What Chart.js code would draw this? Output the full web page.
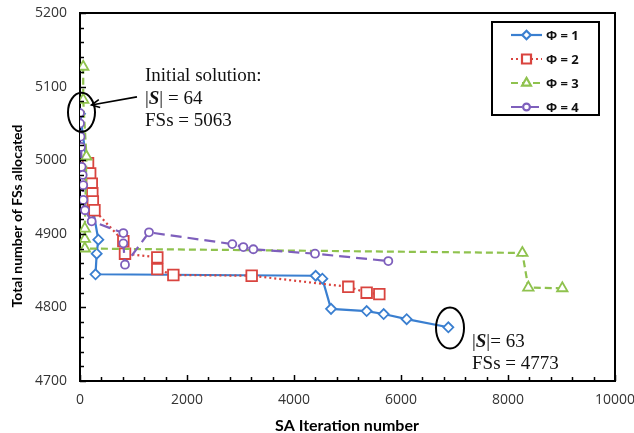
<!DOCTYPE html>
<html><head><meta charset="utf-8">
<script src="https://cdn.jsdelivr.net/npm/chart.js@4/dist/chart.umd.min.js"></script>
<style>html,body{margin:0;padding:0;background:#fff;}</style>
</head><body>
<canvas id="c" width="634" height="433"></canvas>
<script>
const seriesNames = ['Φ = 1', 'Φ = 2', 'Φ = 3', 'Φ = 4'];

const phi1X = [0, 250, 343, 312, 290, 4405, 4530, 4692, 5358, 5676, 6106, 6885];
const phi1Y = [5063, 4930, 4892, 4873, 4845, 4843, 4839, 4798, 4795, 4791, 4784, 4773];

const phi2X = [150, 190, 220, 230, 240, 270, 810, 841, 1445, 1445, 1745, 3209, 5015, 5358, 5595];
const phi2Y = [4996, 4982, 4968, 4955, 4944, 4932, 4890, 4873, 4868, 4852, 4844, 4843, 4828, 4820, 4818];

const phi3X = [60, 60, 120, 90, 90, 90, 8268, 8380, 9015];
const phi3Y = [5127, 5082, 5005, 4907, 4893, 4880, 4874, 4827, 4826];

const phi4X = [0, 0, 10, 20, 30, 50, 60, 62, 93, 218, 810, 810, 841, 1290, 2847, 3053, 3240, 4393, 5763];
const phi4Y = [5064, 5050, 5032, 5018, 4991, 4980, 4966, 4946, 4932, 4917, 4901, 4887, 4858, 4902, 4886, 4882, 4879, 4873, 4863];

const xTicks = [0, 2000, 4000, 6000, 8000, 10000];
const yTicks = [4700, 4800, 4900, 5000, 5100, 5200];
const xAxisTitle = 'SA Iteration number';
const yAxisTitle = 'Total number of FSs allocated';

const initialNote = { x: 28, y: 5065, arrowFrom: [1065, 5086], arrowTo: [215, 5075], lines: ['Initial solution:', '|S| = 64', 'FSs = 5063'] };
const finalNote = { x: 6916, y: 4772, lines: ['|S|= 63', 'FSs = 4773'] };

const colors = ['#3a7fd0', '#d9443f', '#8fc24e', '#7e5fbc'];
const styles = [
  { pointStyle: 'rectRot', r: 5, dash: [] },
  { pointStyle: 'rect', r: 7.5, dash: [2, 3] },
  { pointStyle: 'triangle', r: 6, dash: [7, 4] },
  { pointStyle: 'circle', r: 4, dash: [11, 6] }
];

const xs = [phi1X, phi2X, phi3X, phi4X];
const ys = [phi1Y, phi2Y, phi3Y, phi4Y];

const datasets = seriesNames.map((name, i) => ({
  label: name,
  order: 3 - i,
  data: xs[i].map((x, j) => ({ x: x, y: ys[i][j] })),
  borderColor: colors[i],
  backgroundColor: '#ffffff',
  pointBackgroundColor: '#ffffff',
  pointBorderColor: colors[i],
  pointStyle: styles[i].pointStyle,
  pointRadius: styles[i].r,
  pointBorderWidth: 1.8,
  borderWidth: 2.2,
  borderDash: styles[i].dash,
  tension: 0,
  fill: false
}));

function line(ctx, x1, y1, x2, y2) { ctx.beginPath(); ctx.moveTo(x1, y1); ctx.lineTo(x2, y2); ctx.stroke(); }

function drawS(ctx, pre, post, x, y) {
  const reg = '19px "Liberation Serif"';
  const bi = 'bold italic 19px "Liberation Serif"';
  ctx.font = reg; ctx.fillText(pre, x, y); x += ctx.measureText(pre).width;
  ctx.font = bi; ctx.fillText('S', x, y); x += ctx.measureText('S').width;
  ctx.font = reg; ctx.fillText(post, x, y);
}

const decor = {
  id: 'decor',
  beforeDraw(chart) {
    const ctx = chart.ctx;
    ctx.save(); ctx.fillStyle = '#ffffff'; ctx.fillRect(0, 0, chart.width, chart.height); ctx.restore();
  },
  afterDraw(chart) {
    const { ctx, chartArea: a, scales: { x, y } } = chart;
    ctx.save();
    ctx.strokeStyle = '#000'; ctx.lineWidth = 2;
    ctx.beginPath(); ctx.moveTo(a.left, a.top); ctx.lineTo(a.right, a.top); ctx.lineTo(a.right, a.bottom); ctx.stroke();
    ctx.lineWidth = 1.5;
    for (let v = yTicks[0]; v <= yTicks[yTicks.length - 1]; v += 20) {
      const py = Math.round(y.getPixelForValue(v)) + 0.5;
      line(ctx, a.left, py, a.left + (v % 100 === 0 ? 6 : 4), py);
    }
    for (let v = xTicks[0]; v <= xTicks[xTicks.length - 1]; v += 400) {
      const px = Math.round(x.getPixelForValue(v)) + 0.5;
      line(ctx, px, a.bottom, px, a.bottom - (v % 2000 === 0 ? 6 : 4));
    }
    // axis titles
    ctx.fillStyle = '#000';
    ctx.font = 'bold 14px Lato';
    ctx.textAlign = 'center'; ctx.textBaseline = 'middle';
    ctx.save(); ctx.translate(17, 216); ctx.rotate(-Math.PI / 2); ctx.fillText(yAxisTitle, 0, 0); ctx.restore();
    ctx.font = 'bold 16px Lato';
    ctx.textBaseline = 'alphabetic';
    ctx.fillText(xAxisTitle, 347, 431);

    // legend
    ctx.textBaseline = 'middle';
    ctx.lineWidth = 2; ctx.strokeStyle = '#000';
    ctx.strokeRect(492, 22, 107, 93);
    seriesNames.forEach((name, i) => {
      const ry = 35 + i * 24;
      ctx.strokeStyle = colors[i]; ctx.lineWidth = 2.2; ctx.setLineDash(styles[i].dash);
      line(ctx, 511, ry, 542, ry);
      ctx.setLineDash([]);
      ctx.fillStyle = '#fff'; ctx.strokeStyle = colors[i];
      Chart.helpers.drawPoint(ctx, { pointStyle: styles[i].pointStyle, radius: styles[i].r * 0.85, rotation: 0, borderWidth: 1.6 }, 526.5, ry);
      ctx.fillStyle = '#111'; ctx.font = 'bold 13px "Open Sans"'; ctx.textAlign = 'left';
      ctx.fillText(name, 546, ry + 1);
    });
    ctx.restore();
  },
  afterDatasetsDraw(chart) {
    const { ctx, scales: { x, y } } = chart;
    ctx.save();
    ctx.strokeStyle = '#000'; ctx.lineWidth = 2;
    ctx.beginPath(); ctx.ellipse(x.getPixelForValue(initialNote.x), y.getPixelForValue(initialNote.y), 13.5, 19.5, 0, 0, Math.PI * 2); ctx.stroke();
    ctx.beginPath(); ctx.ellipse(x.getPixelForValue(finalNote.x), y.getPixelForValue(finalNote.y), 14, 20.5, 0, 0, Math.PI * 2); ctx.stroke();
    const ax1 = x.getPixelForValue(initialNote.arrowFrom[0]), ay1 = y.getPixelForValue(initialNote.arrowFrom[1]);
    const ax2 = x.getPixelForValue(initialNote.arrowTo[0]), ay2 = y.getPixelForValue(initialNote.arrowTo[1]);
    ctx.lineWidth = 1.6;
    line(ctx, ax1, ay1, ax2, ay2);
    const ang = Math.atan2(ay2 - ay1, ax2 - ax1);
    ctx.beginPath();
    ctx.moveTo(ax2 - 9 * Math.cos(ang - 0.45), ay2 - 9 * Math.sin(ang - 0.45));
    ctx.lineTo(ax2, ay2);
    ctx.lineTo(ax2 - 9 * Math.cos(ang + 0.45), ay2 - 9 * Math.sin(ang + 0.45));
    ctx.stroke();
    ctx.fillStyle = '#111'; ctx.textAlign = 'left'; ctx.textBaseline = 'middle';
    ctx.font = '19px "Liberation Serif"';
    ctx.fillText(initialNote.lines[0], 145, 76);
    drawS(ctx, '|', '| = 64', 145, 99);
    ctx.font = '19px "Liberation Serif"';
    ctx.fillText(initialNote.lines[2], 145, 121);
    drawS(ctx, '|', '|= 63', 472, 342);
    ctx.font = '19px "Liberation Serif"';
    ctx.fillText(finalNote.lines[1], 472, 364);
    ctx.restore();
  }
};

new Chart(document.getElementById('c'), {
  type: 'line',
  data: { datasets: datasets },
  options: {
    responsive: false,
    animation: false,
    layout: { padding: { left: 0, top: 13, right: 19, bottom: 0 } },
    plugins: { legend: { display: false }, tooltip: { enabled: false } },
    scales: {
      x: {
        type: 'linear', min: xTicks[0], max: xTicks[xTicks.length - 1],
        afterBuildTicks: s => { s.ticks = xTicks.map(v => ({ value: v })); },
        afterFit: s => { s.height = 52; s.paddingLeft = 0; s.paddingRight = 0; },
        grid: { display: false, drawTicks: false },
        border: { display: true, color: '#000', width: 2 },
        ticks: { padding: 11, color: '#333', font: { family: '"Open Sans"', size: 14 }, maxRotation: 0, callback: v => String(v) }
      },
      y: {
        type: 'linear', min: yTicks[0], max: yTicks[yTicks.length - 1],
        afterBuildTicks: s => { s.ticks = yTicks.map(v => ({ value: v })); },
        afterFit: s => { s.width = 80; s.paddingTop = 0; s.paddingBottom = 0; },
        grid: { display: false, drawTicks: false },
        border: { display: true, color: '#000', width: 2 },
        ticks: { padding: 13, color: '#333', font: { family: '"Open Sans"', size: 14 }, callback: v => String(v) }
      }
    }
  },
  plugins: [decor]
});
</script>
</body></html>
